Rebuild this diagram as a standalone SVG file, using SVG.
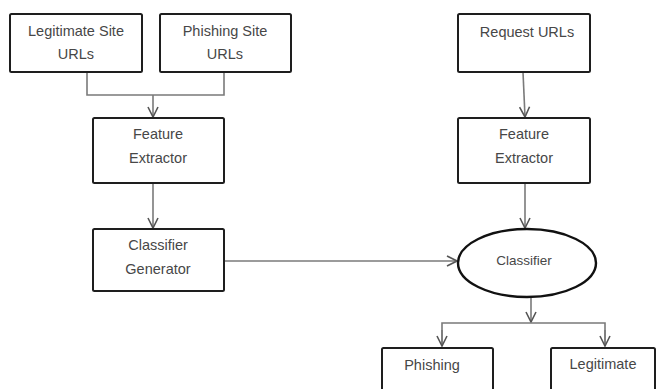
<svg xmlns="http://www.w3.org/2000/svg" width="657" height="389" viewBox="0 0 657 389">
<style>
.box{fill:#fff;stroke:#1e1e1e;stroke-width:2}
.t{font-family:"Liberation Sans",Arial,sans-serif;font-size:14.5px;fill:#474747;text-anchor:middle;dominant-baseline:central}
.c{fill:none;stroke:#7a7a7a;stroke-width:1.6}
</style>
<defs>
<marker id="ah" viewBox="0 0 12 12" refX="11" refY="6" markerWidth="12" markerHeight="12" markerUnits="userSpaceOnUse" orient="auto">
<polyline points="1,1 11,6 1,11" fill="none" stroke="#555" stroke-width="1.6"/>
</marker>
</defs>
<rect width="657" height="389" fill="#fff"/>
<g id="connectors">
<polyline class="c" points="87,72 87,95 224,95 224,72"/>
<line class="c" x1="153" y1="95" x2="153" y2="117" marker-end="url(#ah)"/>
<line class="c" x1="153" y1="183" x2="153" y2="228" marker-end="url(#ah)"/>
<line class="c" x1="224" y1="261" x2="457" y2="261" marker-end="url(#ah)"/>
<line class="c" x1="523" y1="72" x2="525" y2="117" marker-end="url(#ah)"/>
<line class="c" x1="525" y1="183" x2="525" y2="228" marker-end="url(#ah)"/>
<line class="c" x1="531" y1="297" x2="531" y2="322" marker-end="url(#ah)"/>
<polyline class="c" points="442,346 442,323 605,323 605,346"/>
<line class="c" x1="442" y1="330" x2="442" y2="346" marker-end="url(#ah)"/>
<line class="c" x1="605" y1="330" x2="605" y2="346" marker-end="url(#ah)"/>
</g>
<g id="legit-urls">
<rect class="box" x="10" y="14" width="132" height="58" rx="1.5"/>
<text class="t" x="76" y="31">Legitimate Site</text>
<text class="t" x="76" y="54">URLs</text>
</g>
<g id="phish-urls">
<rect class="box" x="160" y="14" width="131" height="58" rx="1.5"/>
<text class="t" x="225" y="31">Phishing Site</text>
<text class="t" x="225" y="54">URLs</text>
</g>
<g id="feature1">
<rect class="box" x="93" y="118" width="131" height="65" rx="1.5"/>
<text class="t" x="158" y="134">Feature</text>
<text class="t" x="158" y="158">Extractor</text>
</g>
<g id="generator">
<rect class="box" x="93" y="229" width="131" height="62" rx="1.5"/>
<text class="t" x="158" y="245">Classifier</text>
<text class="t" x="158" y="269">Generator</text>
</g>
<g id="request">
<rect class="box" x="458" y="14" width="132" height="58" rx="1.5"/>
<text class="t" x="527" y="32">Request URLs</text>
</g>
<g id="feature2">
<rect class="box" x="458" y="118" width="132" height="65" rx="1.5"/>
<text class="t" x="524" y="134">Feature</text>
<text class="t" x="524" y="158">Extractor</text>
</g>
<g id="classifier">
<ellipse cx="527" cy="263" rx="69" ry="34" fill="#fff" stroke="#111" stroke-width="2.4"/>
<text class="t" x="524" y="260" style="font-size:13.5px">Classifier</text>
</g>
<g id="phishing">
<rect class="box" x="382" y="348" width="111" height="50" rx="1.5"/>
<text class="t" x="432" y="365">Phishing</text>
</g>
<g id="legitimate">
<rect class="box" x="551" y="348" width="104" height="50" rx="1.5"/>
<text class="t" x="603" y="364">Legitimate</text>
</g>
</svg>
